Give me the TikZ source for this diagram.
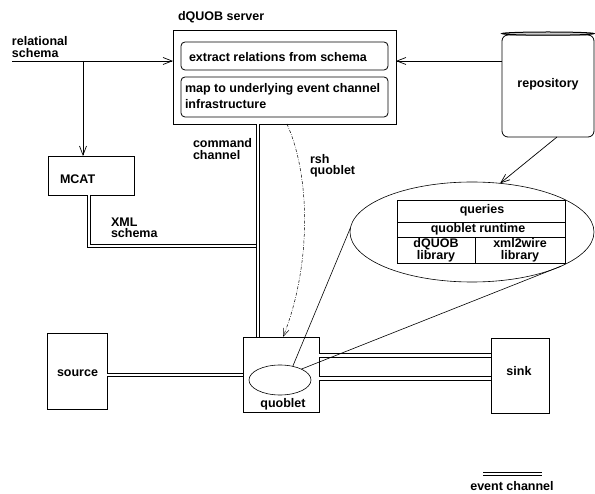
\documentclass[tikz,border=0pt]{standalone}
\usepackage{fontspec}
\setmainfont{Liberation Sans}
\usetikzlibrary{arrows.meta,shapes.geometric,calc}
\begin{document}
\begin{tikzpicture}[x=1pt,y=-1pt,
  every node/.style={inner sep=0pt,outer sep=0pt},
  rect/.style={draw,line width=0.8pt,rectangle},
  oval/.style={draw,line width=0.6pt,ellipse},
  lbl/.style={font=\fontsize{12.5}{11.6}\selectfont\bfseries,anchor=base west,align=left},
  clbl/.style={font=\fontsize{12.5}{11.6}\selectfont\bfseries,anchor=base,align=center},
  arr/.style={-{Straight Barb[length=9pt,width=7pt]},line width=0.7pt},
  chan/.style={double,double distance=2.8pt,line width=0.9pt},
  rshline/.style={-{Straight Barb[length=8pt,width=6pt]},line width=0.5pt,
    dash pattern=on 3pt off 1.5pt on 0.6pt off 1.5pt},
  thinline/.style={line width=0.6pt}]
\useasboundingbox (0,0) rectangle (595,494);

% boxes
\node[rect,minimum width=223pt,minimum height=94pt] (server) at (284.5,77) {};
\node[rect,rounded corners=4pt,minimum width=207pt,minimum height=28pt] (extract) at (284.5,56) {};
\node[rect,rounded corners=4pt,minimum width=207pt,minimum height=40pt] (mapbox) at (284.5,97) {};
\node[rect,rounded corners=6pt,minimum width=92pt,minimum height=102pt] (repo) at (548,86) {};
\draw[line width=1pt,fill=gray!40] (548,33.6) ellipse [x radius=46, y radius=1.6];
\node[rect,minimum width=86pt,minimum height=39pt] (mcat) at (91,175.5) {};
\node[rect,minimum width=60pt,minimum height=76pt] (source) at (77,371) {};
\node[rect,minimum width=76pt,minimum height=75pt] (quoblet) at (281,374.5) {};
\node[oval,minimum width=62pt,minimum height=30pt] (qell) at (280,380) {};
\node[rect,minimum width=58pt,minimum height=75pt] (sink) at (520,375.5) {};
\node[oval,minimum width=244pt,minimum height=100pt] (bigell) at (472,232) {};

% table
\node[rect,minimum width=168pt,minimum height=22pt] (qrow) at (481,211) {};
\node[rect,minimum width=168pt,minimum height=15pt] (rrow) at (481,229.5) {};
\node[rect,minimum width=78pt,minimum height=26pt] (lib1) at (436,250) {};
\node[rect,minimum width=90pt,minimum height=26pt] (lib2) at (520,250) {};

% texts (multi-line nodes are placed at the baseline of their last line)
\node[lbl] (tserver) at (178,21) {dQUOB server};
\node[lbl] (trel) at (12,57.5) {relational\\schema};
\node[lbl] (text1) at (189,62) {extract relations from schema};
\node[lbl,font=\fontsize{12.5}{15.5}\selectfont\bfseries] (tmap) at (185,108.5) {map to underlying event channel\\infrastructure};
\node[lbl] (tcmd) at (193,159.5) {command\\channel};
\node[lbl] (tmcat) at (60,184) {MCAT};
\node[lbl] (txml) at (111,238) {XML\\schema};
\node[lbl] (trsh) at (310,175) {rsh\\quoblet};
\node[clbl] (trepo) at (548,88) {repository};
\node[clbl] (tq) at (482,214) {queries};
\node[clbl] (tqr) at (478,233) {quoblet runtime};
\node[clbl] (tl1) at (436,259.5) {dQUOB\\library};
\node[clbl] (tl2) at (520,259.5) {xml2wire\\library};
\node[lbl] (tsrc) at (57,376.7) {source};
\node[clbl] (tquob) at (283,408) {quoblet};
\node[clbl] (tsink) at (519,376) {sink};
\node[clbl] (tlegend) at (512,491) {event channel};

% connectors
\coordinate (rsin) at (12,61);
\coordinate (rsbr) at (83,61);
\draw[arr] (rsin) -- (rsin -| server.west);
\draw[arr] (rsbr) -- (rsbr |- mcat.north);
\coordinate (repoy) at (548,61);
\draw[arr] (repoy -| repo.west) -- (repoy -| server.east);

\coordinate (xmlv) at (89,0);
\coordinate (cmdx) at (258,0);
\coordinate (xmlh) at (0,246);
\draw[chan] (xmlv |- mcat.south) |- (cmdx |- xmlh);
\draw[chan] (cmdx |- server.south) -- (cmdx |- quoblet.north);

\coordinate (sy) at (0,375);
\draw[chan] (sy -| source.east) -- (sy -| quoblet.west);
\coordinate (k1) at (0,355.3);
\draw[chan] (k1 -| quoblet.east) -- (k1 -| sink.west);
\coordinate (k2) at (0,378.3);
\draw[chan] (k2 -| quoblet.east) -- (k2 -| sink.west);

\coordinate (rshs) at (287,0);
\coordinate (rshe) at (283,0);
\draw[rshline] (rshs |- server.south) .. controls (312,180) and (310,270) .. (rshe |- quoblet.north);

\coordinate (rpx) at (557,0);
\draw[arr] (rpx |- repo.south) -- (bigell.60);

\draw[thinline] (qell.47) -- (bigell.178);
\draw[thinline] (qell.27) -- (bigell.-21);

\coordinate (lg1) at (483,474);
\coordinate (lg2) at (542,474);
\draw[chan] (lg1) -- (lg2);
\end{tikzpicture}
\end{document}
